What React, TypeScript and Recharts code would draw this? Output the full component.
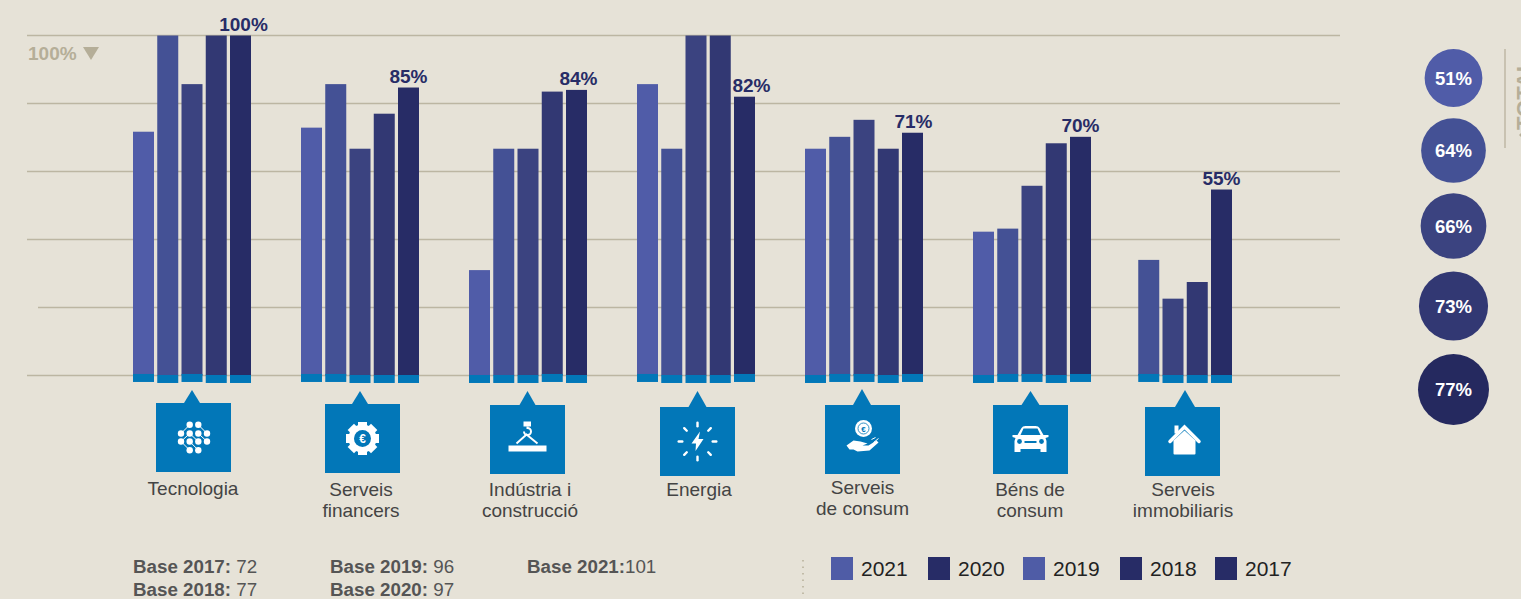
import React from 'react'
import {
  BarChart,
  Bar,
  XAxis,
  YAxis,
  CartesianGrid,
  LabelList,
  ScatterChart,
  Scatter,
  ZAxis,
  Cell
} from 'recharts'

const categories = ['Tecnologia', 'Serveis financers', 'Indústria i construcció', 'Energia', 'Serveis de consum', 'Béns de consum', 'Serveis immobiliaris']

const values2021 = [71.7, 72.9, 31, 85.7, 66.7, 42.3, null]
const values2020 = [100, 85.7, 66.7, 66.7, 70.2, 43.2, 34]
const values2019 = [85.7, 66.7, 66.7, 100, 75.2, 55.8, 22.6]
const values2018 = [100, 77, 83.5, 100, 66.7, 68.3, 27.5]
const values2017 = [100, 84.7, 84, 82, 71.4, 70.2, 54.7]

// the blue foot under each bar sits either a little higher or lower on the axis
const HIGH: [number, number] = [-1.9, 0.45]
const LOW: [number, number] = [-2.2, 0.15]
const feet2021 = [HIGH, HIGH, LOW, HIGH, LOW, LOW, null]
const feet2020 = [LOW, HIGH, LOW, LOW, HIGH, HIGH, HIGH]
const feet2019 = [HIGH, LOW, LOW, LOW, HIGH, HIGH, LOW]
const feet2018 = [LOW, LOW, HIGH, LOW, LOW, LOW, LOW]
const feet2017 = [LOW, LOW, LOW, HIGH, HIGH, HIGH, LOW]

const years = ['2021', '2020', '2019', '2018', '2017']
const yearColors = ['#505ca8', '#445195', '#3b4380', '#323873', '#272c66']
const legendColors = ['#4f5ca6', '#272c66', '#4f5ca6', '#272c66', '#272c66']
const yTicks = [0, 20, 40, 60, 80, 100]

const totals = [51, 64, 66, 73, 77]
const totalColors = ['#505ca8', '#445195', '#3b4380', '#323873', '#25295f']
const totalRows = [78, 150.5, 226, 306, 389.5]

const bases = [
  ['Base 2017:', ' 72', 133, 573],
  ['Base 2018:', ' 77', 133, 596],
  ['Base 2019:', ' 96', 330, 573],
  ['Base 2020:', ' 97', 330, 596],
  ['Base 2021:', '101', 527, 573]
] as const

const tableData = categories.map((category, i) => ({
  category,
  y2021: values2021[i],
  y2020: values2020[i],
  y2019: values2019[i],
  y2018: values2018[i],
  y2017: values2017[i],
  f2021: feet2021[i],
  f2020: feet2020[i],
  f2019: feet2019[i],
  f2018: feet2018[i],
  f2017: feet2017[i]
}))

const totalData = totals.map((value, i) => ({ value, x: 0.5, y: totalRows[i] }))

const FONT = '"Liberation Sans", Arial, sans-serif'
const BG = '#e6e2d7'
const BLUE = '#0277b8'
const TAUPE = '#b5ae98'
const NAVY = '#272c66'
const LAST_GROUP_SHIFT = -27

const tiles = [
  { left: 156, top: 403, tipX: 192, tipY: 390, half: 8, textX: 193, textY: 495, lines: ['Tecnologia'] },
  { left: 325, top: 404, tipX: 360, tipY: 391, half: 8, textX: 361, textY: 496, lines: ['Serveis', 'financers'] },
  { left: 490, top: 405, tipX: 527.5, tipY: 391, half: 8, textX: 530, textY: 496, lines: ['Indústria i', 'construcció'] },
  { left: 660, top: 407, tipX: 697.5, tipY: 391, half: 9, textX: 699, textY: 496, lines: ['Energia'] },
  { left: 825, top: 405, tipX: 862, tipY: 389, half: 9, textX: 862.5, textY: 494, lines: ['Serveis', 'de consum'] },
  { left: 993, top: 405, tipX: 1030.5, tipY: 391, half: 9, textX: 1030, textY: 496, lines: ['Béns de', 'consum'] },
  { left: 1145, top: 407, tipX: 1185, tipY: 390, half: 10, textX: 1183, textY: 496, lines: ['Serveis', 'immobiliaris'] }
]

const labelShift = [3, 0, 2, 7, 1, 0, 0]

const TechIcon = () => {
  const dots = [[-4.3, -12.7], [4.3, -12.7], [-13, -4], [-4.3, -4], [4.3, -4], [13, -4], [-13, 4], [-4.3, 4], [4.3, 4], [13, 4], [-4.3, 12.7], [4.3, 12.7]]
  return (
    <g transform="translate(0.5 0)" fill="#fff" stroke="#fff">
      {dots.map(([x, y], i) => <circle key={i} cx={x} cy={y} r={3.2} stroke="none" />)}
      <path d="M4.3 -12.7L13 -4M-4.3 -12.7L-13 -4M-4.3 -4L4.3 4M-13 4L-4.3 -4M-13 4L-4.3 12.7M4.3 12.7L-4.3 4M13 4L4.3 -4" fill="none" strokeWidth={1} />
    </g>
  )
}

const GearIcon = () => {
  const teeth = [0, 45, 90, 135, 180, 225, 270, 315]
  return (
    <g>
      {teeth.map(a => <rect key={a} x={-4.5} y={-16.5} width={9} height={6} fill="#fff" transform={`rotate(${a})`} />)}
      <circle r={14} fill="#fff" />
      <circle r={8.5} fill={BLUE} />
      <text y={4.5} textAnchor="middle" fontSize={12} fontWeight="bold" fill="#fff" fontFamily={FONT}>€</text>
    </g>
  )
}

const CraneIcon = () => (
  <g>
    <rect x={-19} y={6} width={38} height={6} fill="#fff" />
    <path d="M-11 4L-1 -5L10 4" fill="none" stroke="#fff" strokeWidth={2} />
    <rect x={-4} y={-18} width={7.5} height={5} fill="#fff" />
    <path d="M0 -13L0 -11.5A3.5 3.5 0 1 1 -3.5 -8" fill="none" stroke="#fff" strokeWidth={2} />
  </g>
)

const EnergyIcon = () => {
  const rays = [0, 45, 90, 135, 180, 225, 270, 315]
  return (
    <g>
      {rays.map(a => <rect key={a} x={-1.2} y={-20} width={2.4} height={6} rx={1.2} fill="#fff" transform={`rotate(${a})`} />)}
      <path d="M2.5 -10L-6 2L-1.5 2L-2 9.5L6 -2.5L1 -2.5Z" fill="#fff" />
    </g>
  )
}

const ConsumerIcon = () => (
  <g>
    <circle cx={1} cy={-11} r={8.5} fill="#fff" />
    <circle cx={1} cy={-11} r={5.5} fill="none" stroke={BLUE} strokeWidth={0.8} />
    <text x={1} y={-8} textAnchor="middle" fontSize={8} fontWeight="bold" fill={BLUE} fontFamily={FONT}>€</text>
    <path d="M-16 6L-9 1L-2 2L5 4L0 6L6 6L14 1L16 3L7 11L-5 12L-9 10L-13 10Z" fill="#fff" />
    <path d="M9 0L13 -2M11 3L16 -1" stroke="#fff" strokeWidth={1} />
  </g>
)

const CarIcon = () => (
  <g transform="translate(0 -0.5)">
    <path d="M-13 -4L-9 -11Q-8 -13 -5 -13L5 -13Q8 -13 9 -11L13 -4L18 -4L18 -2L15 -1L16 2L16 13L10 13L10 10L-10 10L-10 13L-16 13L-16 2L-15 -1L-18 -2L-18 -4Z" fill="#fff" />
    <path d="M-10 -4L-7 -10.5L7 -10.5L10 -4Z" fill={BLUE} />
    <circle cx={-11} cy={2.5} r={2.4} fill={BLUE} />
    <circle cx={11} cy={2.5} r={2.4} fill={BLUE} />
    <rect x={-6} y={2} width={12} height={2} fill={BLUE} />
  </g>
)

const HouseIcon = () => (
  <g transform="translate(2 -3)">
    <path d="M-11 2L0 -8L11 2L11 15Q11 16 10 16L-10 16Q-11 16 -11 15Z" fill="#fff" />
    <path d="M-14.5 3L0 -11.5L14.5 3" fill="none" stroke="#fff" strokeWidth={3.5} strokeLinecap="round" />
    <rect x={-10} y={-13} width={4} height={8} fill="#fff" />
  </g>
)

const icons = [TechIcon, GearIcon, CraneIcon, EnergyIcon, ConsumerIcon, CarIcon, HouseIcon]

// eslint-disable-next-line @typescript-eslint/no-explicit-any
const CategoryTick = ({ index }: any) => {
  const t = tiles[index]
  const Icon = icons[index]
  return (
    <g>
      <path d={`M${t.tipX} ${t.tipY}L${t.tipX + t.half} ${t.top}L${t.tipX - t.half} ${t.top}Z`} fill={BLUE} />
      <rect x={t.left} y={t.top} width={75} height={69} fill={BLUE} />
      <g transform={`translate(${t.left + 37.5} ${t.top + 34.5})`}>
        <Icon />
      </g>
      <text textAnchor="middle" fontFamily={FONT} fontSize={19} fill="#444">
        {t.lines.map((line, i) => (
          <tspan key={line} x={t.textX} y={t.textY + i * 21}>{line}</tspan>
        ))}
      </text>
    </g>
  )
}

// eslint-disable-next-line @typescript-eslint/no-explicit-any
const ShiftedBar = ({ x, y, width, height, fill, payload }: any) => {
  if (!height) return null
  const dx = payload.category === 'Serveis immobiliaris' ? LAST_GROUP_SHIFT : 0
  return <rect x={x + dx} y={y} width={width} height={height} fill={fill} />
}

// eslint-disable-next-line @typescript-eslint/no-explicit-any
const TopLabel = ({ x, y, width, value, index }: any) => {
  const dx = index === 6 ? LAST_GROUP_SHIFT : 0
  return (
    <text x={x + width / 2 + dx + labelShift[index]} y={y - 5} textAnchor="middle" fontFamily={FONT} fontWeight="bold" fontSize={19} fill={NAVY}>
      {Math.round(value)}%
    </text>
  )
}

const App: React.FC = () => {
  return (
    <div style={{ position: 'absolute', left: 0, top: 0, width: 1521, height: 599, background: BG, overflow: 'hidden', fontFamily: FONT }}>
      <BarChart
        width={1521}
        height={599}
        data={tableData}
        barSize={21}
        barGap={3.25}
        margin={{ top: 35.5, right: 181, bottom: 208.9, left: 27 }}
      >
        <CartesianGrid vertical={false} stroke="#bcb6a2" strokeWidth={1.3} xAxisId="bars" horizontalValues={yTicks} />
        <XAxis
          xAxisId="bars"
          dataKey="category"
          interval={0}
          height={1}
          axisLine={false}
          tickLine={false}
          padding={{ left: 81, right: 56 }}
          tick={<CategoryTick />}
        />
        <XAxis xAxisId="feet" dataKey="category" hide padding={{ left: 81, right: 56 }} />
        <YAxis hide domain={[-4, 100]} ticks={yTicks} />
        {years.map((year, i) => (
          <Bar key={year} xAxisId="bars" dataKey={`y${year}`} fill={yearColors[i]} shape={<ShiftedBar />} isAnimationActive={false}>
            {year === '2017' && <LabelList dataKey="y2017" content={<TopLabel />} />}
          </Bar>
        ))}
        {years.map(year => (
          <Bar key={year} xAxisId="feet" dataKey={`f${year}`} fill={BLUE} shape={<ShiftedBar />} isAnimationActive={false} />
        ))}
      </BarChart>

      <div style={{ position: 'absolute', left: 1400, top: 0 }}>
        <ScatterChart width={107} height={599} margin={{ top: 0, right: 0, bottom: 0, left: 0 }}>
          <XAxis type="number" dataKey="x" domain={[0, 1]} hide />
          <YAxis type="number" dataKey="y" domain={[0, 599]} reversed hide />
          <ZAxis type="number" dataKey="value" domain={[0, 77]} range={[0, 3959]} />
          <Scatter data={totalData} isAnimationActive={false}>
            {totalData.map((d, i) => <Cell key={d.value} fill={totalColors[i]} />)}
            <LabelList
              dataKey="value"
              position="center"
              formatter={(v: number) => `${v}%`}
              fill="#fff"
              fontFamily={FONT}
              fontWeight="bold"
              fontSize={18.5}
            />
          </Scatter>
        </ScatterChart>
      </div>

      <svg width={1521} height={599} style={{ position: 'absolute', left: 0, top: 0, pointerEvents: 'none' }}>
        {/* the 20% rule starts a little later than the others */}
        <rect x={26} y={305} width={12} height={4} fill={BG} />
        <text x={28} y={60} fontFamily={FONT} fontWeight="bold" fontSize={19} fill={TAUPE}>100%</text>
        <path d="M83 47L99 47L91 60Z" fill={TAUPE} />
        <line x1={1505} x2={1505} y1={49} y2={148} stroke={TAUPE} strokeWidth={1.2} />
        <text transform="translate(1532 130) rotate(-90)" fontFamily={FONT} fontWeight="bold" fontSize={22} fill={TAUPE}>TOTAL</text>
        <path d="M1519 135L1521 133L1521 137Z" fill={TAUPE} />
        <line x1={803} x2={803} y1={560} y2={599} stroke={TAUPE} strokeWidth={1.5} strokeDasharray="1.5 5" />
        {bases.map(([bold, rest, x, y]) => (
          <text key={bold} x={x} y={y} fontFamily={FONT} fontSize={18.75} fill="#555">
            <tspan fontWeight="bold">{bold}</tspan>
            {rest}
          </text>
        ))}
        {years.map((year, i) => {
          const x = [831, 928, 1023, 1120, 1215][i]
          return (
            <g key={year}>
              <rect x={x} y={557} width={22} height={23} fill={legendColors[i]} />
              <text x={x + 30} y={576} fontFamily={FONT} fontSize={21} fill="#222">{year}</text>
            </g>
          )
        })}
      </svg>
    </div>
  )
}

export default App
